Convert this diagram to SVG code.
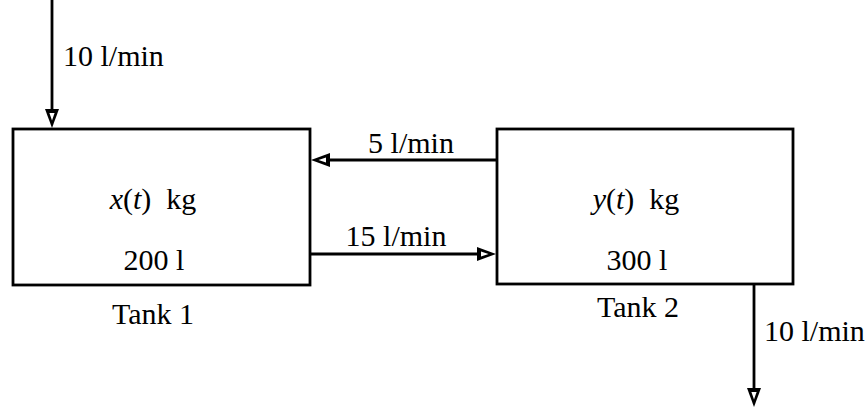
<svg xmlns="http://www.w3.org/2000/svg" width="868" height="409" viewBox="0 0 868 409">
<defs>
  <g id="head">
    <polygon points="-7,-19 7,-19 0,0" fill="#000"/>
    <polygon points="-2.6,-15 2.6,-15 0,-7.5" fill="#fff"/>
  </g>
</defs>
<style>
  .box { fill: #fff; stroke: #000; stroke-width: 2.8; }
  .ln { fill: none; stroke: #000; stroke-width: 2.8; }
  text { font-family: "Liberation Serif", "Times New Roman", serif; font-size: 30px; fill: #000; }
  .it { font-style: italic; }
  .mid { text-anchor: middle; }
</style>
<rect width="868" height="409" fill="#fff"/>
<g id="tank1">
  <rect class="box" x="13" y="129" width="297" height="156"/>
  <text class="mid" x="153" y="209" xml:space="preserve"><tspan class="it">x</tspan>(<tspan class="it">t</tspan>)  kg</text>
  <text class="mid" x="154" y="270">200 l</text>
  <text class="mid" x="153" y="324">Tank 1</text>
</g>
<g id="tank2">
  <rect class="box" x="497" y="129" width="296" height="155"/>
  <text class="mid" x="636" y="209" xml:space="preserve"><tspan class="it">y</tspan>(<tspan class="it">t</tspan>)  kg</text>
  <text class="mid" x="637" y="270">300 l</text>
  <text class="mid" x="638" y="317">Tank 2</text>
</g>
<g id="connectors">
  <line class="ln" x1="52" y1="0" x2="52" y2="112"/>
  <use href="#head" transform="translate(52,128)"/>
  <text x="63" y="66">10 l/min</text>

  <line class="ln" x1="497" y1="160" x2="326" y2="160"/>
  <use href="#head" transform="translate(311,160) rotate(90)"/>
  <text class="mid" x="411" y="153">5 l/min</text>

  <line class="ln" x1="310" y1="254" x2="480" y2="254"/>
  <use href="#head" transform="translate(496,254) rotate(-90)"/>
  <text class="mid" x="396" y="246">15 l/min</text>

  <line class="ln" x1="754" y1="284" x2="754" y2="392"/>
  <use href="#head" transform="translate(754,407)"/>
  <text x="764" y="341">10 l/min</text>
</g>
</svg>
